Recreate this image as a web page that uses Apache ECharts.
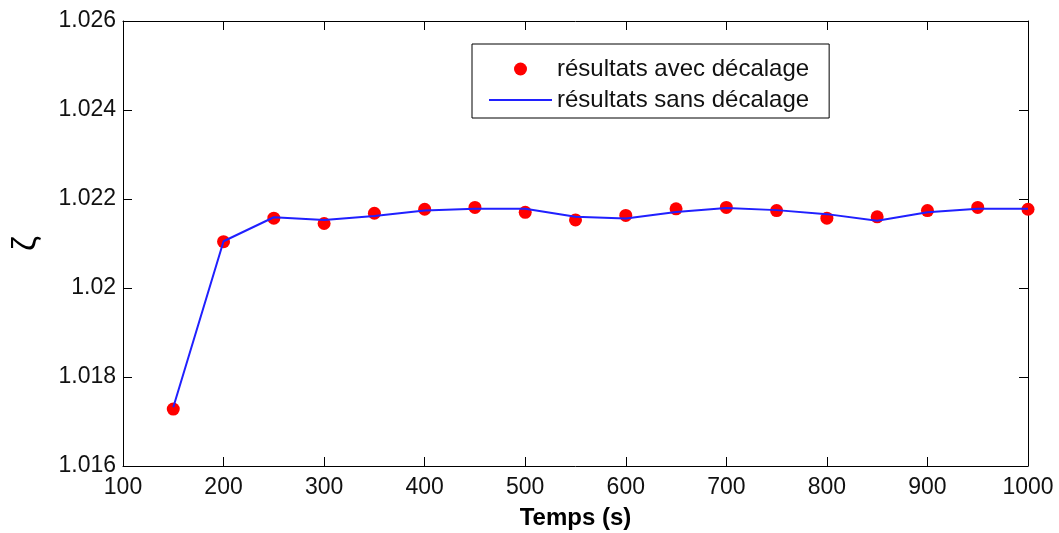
<!DOCTYPE html>
<html><head><meta charset="utf-8">
<script src="https://cdn.jsdelivr.net/npm/echarts@6/dist/echarts.min.js"></script>
<style>html,body{margin:0;padding:0;background:#fff}#c{width:1059px;height:533px}</style>
</head><body><div id="c"></div>
<script>
const times = [150,200,250,300,350,400,450,500,550,600,650,700,750,800,850,900,950,1000];
const avecDecalage = [1.01728,1.02104,1.02157,1.02145,1.02168,1.02177,1.02181,1.02170,1.02153,1.02163,1.02178,1.02181,1.02174,1.02157,1.02160,1.02174,1.02181,1.02177];
const sansDecalage = [1.01732,1.02105,1.02159,1.02153,1.02162,1.02174,1.02178,1.02178,1.02160,1.02156,1.02171,1.02180,1.02175,1.02166,1.02151,1.02170,1.02178,1.02178];
const seriesNames = ['résultats avec décalage','résultats sans décalage'];
const xTitle = 'Temps (s)';
const yTitle = 'ζ';

const font = 'Liberation Sans, Arial, sans-serif';
const chart = echarts.init(document.getElementById('c'));
const axisCommon = {
  axisLine:{show:true,onZero:false,lineStyle:{color:'#000',width:1}},
  axisTick:{show:true,inside:true,length:9,lineStyle:{color:'#000'}},
  splitLine:{show:false}
};
chart.setOption({
  backgroundColor:'#fff',
  animation:false,
  grid:{left:123,right:31,top:21,bottom:67,outerBoundsMode:'none',containLabel:false},
  legend:{
    left:472, top:44, orient:'vertical',
    backgroundColor:'#fff', borderColor:'#000', borderWidth:1,
    padding:[13,20,6,17], itemGap:7, itemWidth:63, itemHeight:13,
    textStyle:{fontFamily:font,fontSize:24,color:'#111'},
    data:[{name:seriesNames[0],icon:'circle'},{name:seriesNames[1],icon:'path://M0,0H63V2H0Z'}]
  },
  xAxis:[
    Object.assign({type:'value',min:100,max:1000,interval:100,position:'bottom',
      name:xTitle,nameLocation:'middle',nameGap:40,
      nameTextStyle:{fontFamily:font,fontSize:24,fontWeight:'bold',color:'#000'},
      axisLabel:{fontFamily:font,fontSize:23,color:'#111',margin:10,formatter:v=>String(v)}},axisCommon),
    Object.assign({type:'value',min:100,max:1000,interval:100,position:'top',
      axisLabel:{show:false}},axisCommon)
  ],
  yAxis:[
    Object.assign({type:'value',min:1.016,max:1.026,interval:0.002,position:'left',
      name:yTitle,nameLocation:'middle',nameGap:80,nameRotate:90,
      nameTextStyle:{fontFamily:font,fontSize:34,color:'#000'},
      axisLabel:{fontFamily:font,fontSize:23,color:'#111',margin:7,
        formatter:v=>String(parseFloat(v.toFixed(3)))}},axisCommon),
    Object.assign({type:'value',min:1.016,max:1.026,interval:0.002,position:'right',
      axisLabel:{show:false}},axisCommon)
  ],
  series:[
    {name:seriesNames[0],type:'scatter',symbol:'circle',symbolSize:13,
     itemStyle:{color:'#ff0000',opacity:1},z:3,
     data:times.map((t,i)=>[t,avecDecalage[i]])},
    {name:seriesNames[1],type:'line',symbol:'none',showSymbol:false,
     lineStyle:{color:'#2020ff',width:2},itemStyle:{color:'#2020ff'},z:4,
     data:times.map((t,i)=>[t,sansDecalage[i]])}
  ]
});
</script></body></html>
